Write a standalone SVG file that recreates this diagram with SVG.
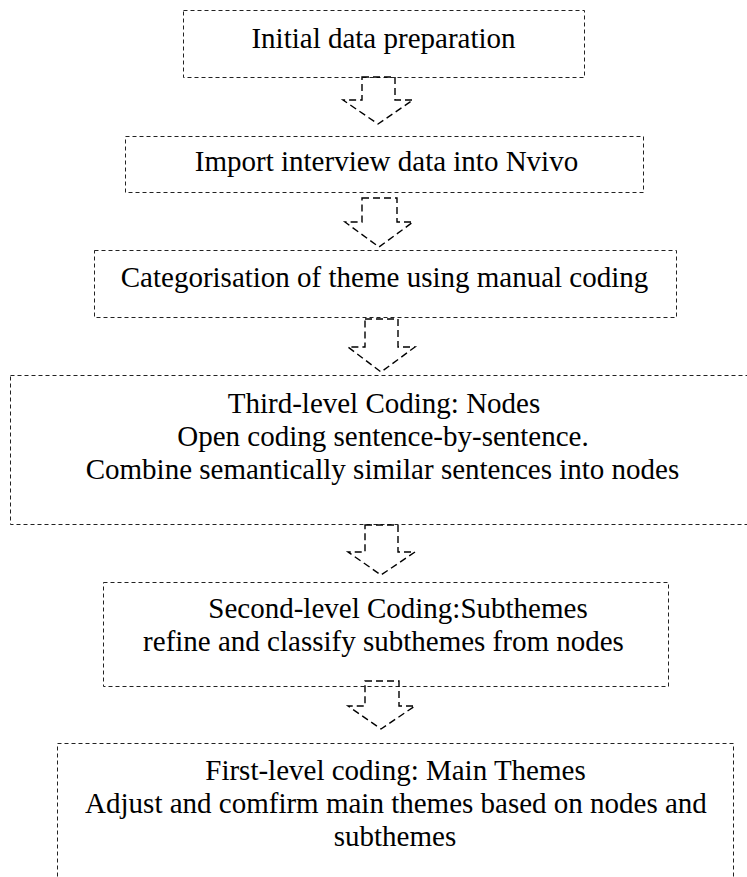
<svg xmlns="http://www.w3.org/2000/svg" width="747" height="877" viewBox="0 0 747 877">
  <style>
    .box { fill: none; stroke: #222; stroke-width: 1; stroke-dasharray: 4 3; }
    .arrow { fill: none; stroke: #000; stroke-width: 1.4; stroke-dasharray: 7 4; }
    text { font-family: "Liberation Serif", "Times New Roman", serif; font-size: 29px; fill: #000; text-anchor: middle; }
  </style>
  <rect x="0" y="0" width="747" height="877" fill="#fff"/>

  <!-- process steps, top to bottom -->
  <g id="step-initial">
    <rect class="box" x="183.5" y="10.5" width="401" height="67"/>
    <text x="383.5" y="48">Initial data preparation</text>
  </g>

  <g id="step-import">
    <rect class="box" x="125.5" y="136.5" width="518" height="56"/>
    <text x="386.5" y="171">Import interview data into Nvivo</text>
  </g>

  <g id="step-categorise">
    <rect class="box" x="94.5" y="250.5" width="582" height="67"/>
    <text x="384.5" y="287">Categorisation of theme using manual coding</text>
  </g>

  <g id="step-third-level">
    <rect class="box" x="10.5" y="375.5" width="746" height="149"/>
    <text x="384" y="413">Third-level Coding: Nodes</text>
    <text x="383" y="446">Open coding sentence-by-sentence.</text>
    <text x="382.5" y="479">Combine semantically similar sentences into nodes</text>
  </g>

  <g id="step-second-level">
    <rect class="box" x="103.5" y="582.5" width="565" height="104"/>
    <text x="398" y="618">Second-level Coding:Subthemes</text>
    <text x="383.5" y="651">refine and classify subthemes from nodes</text>
  </g>

  <g id="step-first-level">
    <rect class="box" x="57.5" y="743.5" width="676" height="150"/>
    <text x="395.5" y="780">First-level coding: Main Themes</text>
    <text x="396" y="813">Adjust and comfirm main themes based on nodes and</text>
    <text x="395" y="846">subthemes</text>
  </g>

  <!-- hollow dashed block arrows between the steps -->
  <g id="connectors">
    <path class="arrow" d="M362 77 H395 V100 H413 L378 124 L343 100 H362 Z"/>
    <path class="arrow" d="M362 198 H397 V222 H413 L379 247 L345 222 H362 Z"/>
    <path class="arrow" d="M365 319 H398 V347 H415 L381 372 L348 347 H365 Z"/>
    <path class="arrow" d="M365 525 H398 V552 H415 L381 575 L348 552 H365 Z"/>
    <path class="arrow" d="M365 681 H399 V706 H415 L381 729 L348 706 H365 Z"/>
  </g>
</svg>
